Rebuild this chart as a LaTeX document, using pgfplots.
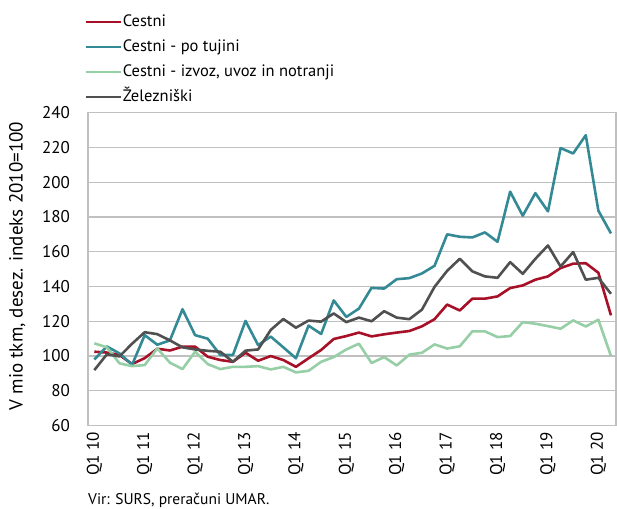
\documentclass[border=0pt]{standalone}
\usepackage{fontspec}
\setmainfont{PT Sans}
\usepackage{pgfplots}
\pgfplotsset{compat=1.18}
\usepackage{pgfplotstable}
\definecolor{cred}{RGB}{168,16,40}
\definecolor{cteal}{RGB}{52,138,148}
\definecolor{cgreen}{RGB}{150,206,166}
\definecolor{cgray}{RGB}{80,80,80}
\definecolor{gridc}{RGB}{192,192,192}

\pgfplotstableread{
i red teal green black
0 102.5 98.0 107.3 91.9
1 102.0 105.5 105.0 101.0
2 100.6 101.5 95.8 99.8
3 95.4 95.0 94.2 107.1
4 98.8 112.0 94.8 113.7
5 104.2 106.5 104.4 112.6
6 103.2 109.0 96.2 109.0
7 105.4 126.9 92.5 105.0
8 105.4 112.0 102.5 103.8
9 99.6 110.0 95.4 103.0
10 97.7 100.6 92.5 102.5
11 96.7 100.6 93.8 96.7
12 101.9 120.2 93.8 103.1
13 97.3 106.3 94.2 103.8
14 100.0 111.2 92.3 115.0
15 97.7 105.0 93.8 121.3
16 93.8 98.7 90.6 116.3
17 98.7 117.5 91.5 120.4
18 103.5 112.7 96.7 119.8
19 109.8 132.0 99.4 124.5
20 111.5 122.5 103.8 119.5
21 113.5 127.3 107.1 122.1
22 111.3 139.2 96.0 120.0
23 112.5 138.8 99.4 125.8
24 113.5 144.2 94.6 122.1
25 114.4 144.8 100.8 121.2
26 117.1 147.5 101.9 126.7
27 121.2 151.9 106.7 139.8
28 129.6 170.0 104.3 149.0
29 126.2 168.6 105.6 155.9
30 133.0 168.2 114.2 148.7
31 133.0 171.1 114.2 145.8
32 134.3 165.7 110.9 145.0
33 139.1 194.5 111.5 154.0
34 140.6 180.7 119.5 147.3
35 143.9 193.7 118.6 155.9
36 145.8 183.2 117.2 163.6
37 150.6 219.6 115.7 151.5
38 153.1 216.5 120.5 159.8
39 153.4 227.0 117.0 143.9
40 147.9 183.6 120.9 145.0
41 123.4 170.5 100.0 135.8
}\data

\begin{document}
\begin{tikzpicture}
\useasboundingbox (0pt,0pt) rectangle (617pt,508pt);
\begin{axis}[
  at={(88pt,82.4pt)}, anchor=south west,
  scale only axis, width=528pt, height=313pt,
  xmin=-0.5, xmax=41.4, ymin=60, ymax=240,
  ytick={60,80,...,240},
  xtick={0,4,...,40},
  xticklabels={Q1 10,Q1 11,Q1 12,Q1 13,Q1 14,Q1 15,Q1 16,Q1 17,Q1 18,Q1 19,Q1 20},
  ymajorgrids,
  grid style={draw=gridc, line width=1.2pt},
  axis line style={draw=gridc, line width=1.2pt},
  tick style={draw=none},
  /pgf/number format/assume math mode=true,
  ticklabel style={font=\fontsize{17}{20}\selectfont, text=black},
  yticklabel style={anchor=east, inner sep=0pt, xshift=-18pt},
  xticklabel style={rotate=90, anchor=east, inner sep=0pt},
  xticklabel shift=6pt,
  ylabel={V mio tkm, desez. indeks 2010=100},
  ylabel style={at={(axis description cs:-0.134,0.51)}, anchor=center, font=\fontsize{19}{22}\selectfont},
  legend style={at={(axis description cs:-0.0057,1.316)}, anchor=north west, draw=none, fill=none, inner sep=0pt,
    font=\fontsize{16.5}{20}\selectfont, column sep=0pt, row sep=8.5pt,
    nodes={inner sep=0pt, text height=12.5pt, text depth=4pt}},
  legend cell align=left,
  legend image code/.code={\draw[#1] (0pt,0pt) -- (35pt,0pt);},
  every axis plot/.append style={line width=2.6pt, line join=round},
]
\addplot[cred] table[x=i,y=red] {\data};
\addlegendentry{Cestni}
\addplot[cteal] table[x=i,y=teal] {\data};
\addlegendentry{Cestni - po tujini}
\addplot[cgreen] table[x=i,y=green] {\data};
\addlegendentry{Cestni - izvoz, uvoz in notranji}
\addplot[cgray] table[x=i,y=black] {\data};
\addlegendentry{Železniški}
\end{axis}
\node[anchor=base west, inner sep=0pt, font=\fontsize{15.5}{17}\selectfont] at (88pt,4pt) {Vir: SURS, preračuni UMAR.};
\end{tikzpicture}
\end{document}
